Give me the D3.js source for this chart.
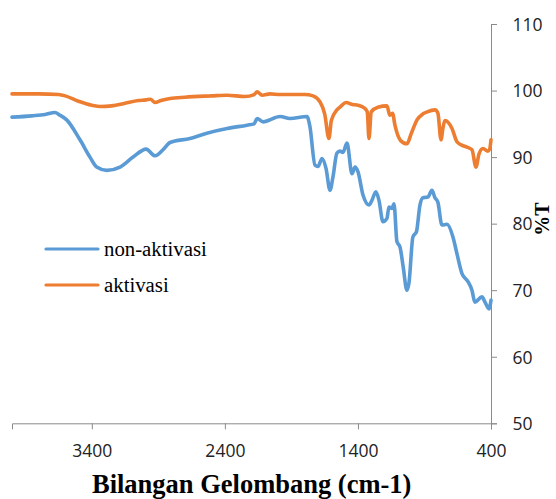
<!DOCTYPE html>
<html><head><meta charset="utf-8">
<script src="https://cdn.jsdelivr.net/npm/d3@7"></script>
<style>html,body{margin:0;padding:0;background:#fff;}svg{display:block;}</style>
</head><body>
<script>
// wavenumber (cm-1) / %T
const nonAktivasiWn = [4000,3850,3750,3677,3640,3589,3489,3414,3364,3288,3188,3090,2992,2925,2865,2812,2662,2535,2383,2233,2180,2158,2113,1985,1911,1783,1761,1723,1700,1670,1640,1610,1588,1558,1535,1513,1482,1445,1422,1400,1362,1317,1295,1265,1242,1212,1182,1167,1144,1129,1107,1084,1060,1032,1017,987,960,934,911,874,844,821,799,769,731,686,656,618,573,543,521,468,445,415,400];
const nonAktivasiT = [96.0,96.2,96.4,96.7,96.3,95.6,92.6,90.0,88.5,88.0,88.5,90.0,91.2,90.2,91.1,92.2,92.8,93.6,94.3,94.8,95.0,95.8,95.3,96.1,95.8,96.1,94.6,88.8,88.6,89.8,88.3,85.0,87.0,90.6,90.9,90.7,92.1,87.5,88.5,87.8,84.3,82.8,83.5,84.8,83.5,80.3,80.8,82.5,82.3,83.0,77.3,76.5,73.5,70.0,71.0,78.0,78.8,82.8,83.9,84.0,85.0,83.9,83.2,79.8,79.9,78.0,75.5,72.5,71.3,70.0,68.2,69.0,68.2,67.2,68.5];
const aktivasiWn = [4000,3800,3650,3600,3500,3400,3338,3250,3150,3050,2992,2960,2925,2880,2812,2700,2500,2383,2250,2180,2158,2120,2061,1985,1911,1800,1738,1685,1650,1618,1600,1558,1530,1490,1440,1400,1347,1330,1317,1300,1250,1182,1160,1140,1122,1080,1032,1000,956,911,880,821,799,776,760,746,693,656,620,581,543,513,490,460,423,410,400];
const aktivasiT = [99.5,99.5,99.4,99.2,98.4,97.8,97.6,97.7,98.1,98.5,98.6,98.7,98.2,98.5,98.8,99.0,99.2,99.3,99.1,99.4,99.8,99.3,99.5,99.4,99.4,99.4,99.2,98.3,96.5,92.8,95.5,97.1,97.6,98.2,97.9,97.8,97.3,96.8,92.8,96.8,97.5,97.7,96.3,96.6,94.8,92.5,92.0,93.5,95.6,96.5,96.8,97.1,96.6,92.6,94.5,95.5,94.3,92.3,91.8,91.5,91.1,88.5,90.5,91.3,90.9,91.2,92.6];
const seriesNames = ["non-aktivasi","aktivasi"];
const seriesColors = ["#5B9BD5","#ED7D31"];
const xTicks = [3400,2400,1400,400];
const yTicks = [50,60,70,80,90,100,110];
const xTitle = "Bilangan Gelombang (cm-1)";
const yTitle = "%T";

const W = 556, H = 499;
const svg = d3.select("body").append("svg").attr("width", W).attr("height", H);
const x = d3.scaleLinear().domain([4000, 400]).range([12, 491]);
const y = d3.scaleLinear().domain([50, 110]).range([423.3, 24]);
const axisColor = "#8a8a8a";
const tickFont = "'Open Sans', 'Liberation Sans', sans-serif";

// x axis
const gx = svg.append("g").attr("transform", `translate(0,${y(50)})`)
  .call(d3.axisBottom(x).tickValues(xTicks).tickSizeOuter(0).tickSize(6).tickFormat(d3.format("d")));
gx.select(".domain").attr("stroke", axisColor);
gx.selectAll(".tick line").attr("stroke", axisColor);
gx.selectAll(".tick text").attr("y", 33.4).attr("dy", null)
  .attr("font-family", tickFont).attr("font-size", "17.5px").attr("fill", "#222");

// y axis (right)
const gy = svg.append("g").attr("transform", `translate(${x(400)},0)`)
  .call(d3.axisRight(y).tickValues(yTicks).tickSizeOuter(0).tickSize(6).tickFormat(d3.format("d")));
gy.select(".domain").attr("stroke", axisColor);
gy.selectAll(".tick line").attr("stroke", axisColor);
gy.selectAll(".tick text").attr("x", 21.5).attr("dy", "0.36em")
  .attr("font-family", tickFont).attr("font-size", "17.5px").attr("fill", "#222");

// lines
const line = d3.line().x(d => x(d[0])).y(d => y(d[1])).curve(d3.curveMonotoneX);
const data = [
  d3.zip(nonAktivasiWn, nonAktivasiT),
  d3.zip(aktivasiWn, aktivasiT)
];
// draw aktivasi first? blue drawn first in reference; orange on top
data.forEach((s, i) => {
  svg.append("path").datum(s).attr("d", line).attr("fill", "none")
    .attr("stroke", seriesColors[i]).attr("stroke-width", 3.6)
    .attr("stroke-linejoin", "round").attr("stroke-linecap", "round");
});

// legend
const legY = [249, 285];
seriesNames.forEach((n, i) => {
  svg.append("line").attr("x1", 46).attr("x2", 98).attr("y1", legY[i]).attr("y2", legY[i])
    .attr("stroke", seriesColors[i]).attr("stroke-width", 3.2).attr("stroke-linecap", "round");
  svg.append("text").attr("x", 104).attr("y", legY[i] + 6.5)
    .attr("font-family", "'Liberation Serif', 'Times New Roman', serif").attr("font-size", "20.8px")
    .attr("fill", "#000").text(n);
});

// titles
svg.append("text").attr("x", 251.7).attr("y", 493).attr("text-anchor", "middle")
  .attr("font-family", "'Liberation Serif', 'Times New Roman', serif").attr("font-weight", "bold")
  .attr("font-size", "26.5px").attr("fill", "#000").text(xTitle);
svg.append("text").attr("transform", "translate(549,219) rotate(-90)").attr("text-anchor", "middle")
  .attr("font-family", "'Liberation Serif', 'Times New Roman', serif").attr("font-weight", "bold")
  .attr("font-size", "20px").attr("fill", "#000").text(yTitle);
</script>
</body></html>
